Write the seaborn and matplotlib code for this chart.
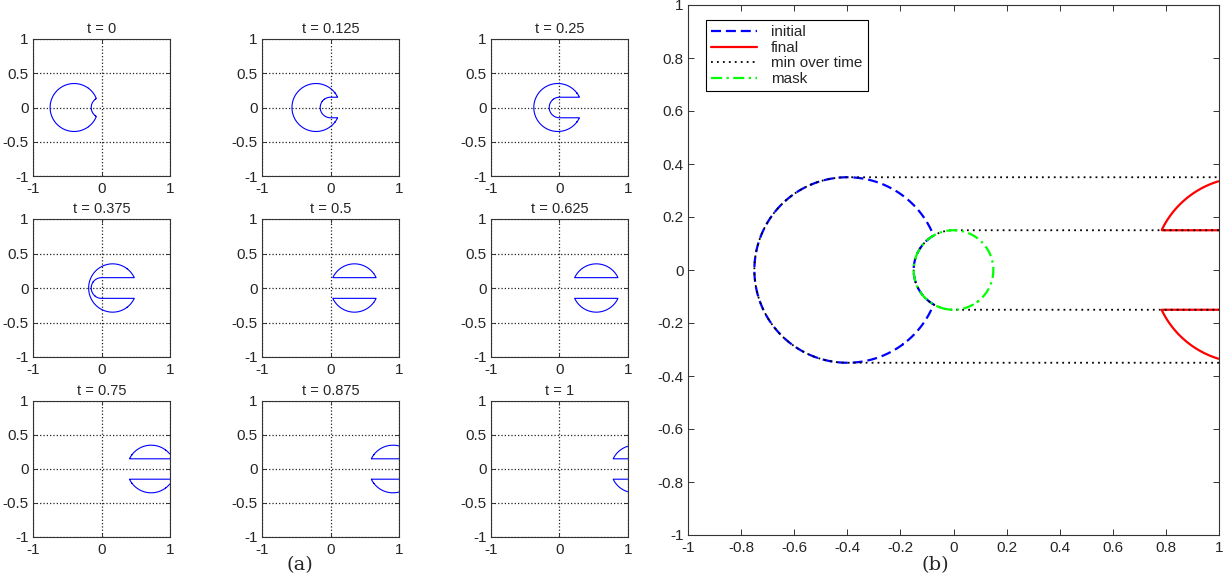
import numpy as np
import matplotlib
matplotlib.use("Agg")
import matplotlib.pyplot as plt
import seaborn as sns
from matplotlib.lines import Line2D

# Paramètres de la scène
times = [0, 0.125, 0.25, 0.375, 0.5, 0.625, 0.75, 0.875, 1]
time_labels = ["0", "0.125", "0.25", "0.375", "0.5", "0.625", "0.75", "0.875", "1"]
disk_start = (-0.4, 0.0)
disk_radius = 0.35
speed = 1.5
mask_center = (0.0, 0.0)
mask_radius = 0.15

small_xticks = [-1, 0, 1]
small_yticks = [-1, -0.5, 0, 0.5, 1]
small_xlabels = ["-1", "0", "1"]
small_ylabels = ["-1", "-0.5", "0", "0.5", "1"]
big_ticks = [-1, -0.8, -0.6, -0.4, -0.2, 0, 0.2, 0.4, 0.6, 0.8, 1]
big_labels = ["-1", "-0.8", "-0.6", "-0.4", "-0.2", "0", "0.2", "0.4", "0.6", "0.8", "1"]
legend_labels = ["initial", "final", "min over time", "mask"]

sns.set_style("ticks")
plt.rcParams["font.family"] = ["Liberation Sans", "DejaVu Sans"]
plt.rcParams["xtick.direction"] = "in"
plt.rcParams["ytick.direction"] = "in"

# Grille pour les lignes de niveau
g = np.linspace(-1, 1, 801)
X, Y = np.meshgrid(g, g)


def phi(t):
    # fonction de niveau : disque translaté privé du masque balayé
    cx = disk_start[0] + speed * t
    d_disk = np.hypot(X - cx, Y - disk_start[1]) - disk_radius
    a = mask_center[0]
    b = mask_center[0] + speed * t
    dx = X - np.clip(X, a, b)
    d_mask = np.hypot(dx, Y - mask_center[1]) - mask_radius
    return np.maximum(d_disk, -d_mask)


W, H = 1225, 581
fig = plt.figure(figsize=(W / 100, H / 100), dpi=100)


def rect(x0, y0, x1, y1):
    return [x0 / W, 1 - y1 / H, (x1 - x0) / W, (y1 - y0) / H]


def style_axes(ax, size):
    for s in ax.spines.values():
        s.set_visible(True)
        s.set_color("#333333")
        s.set_linewidth(0.8)
    ax.tick_params(top=True, right=True, length=3, width=0.7, color="#333333",
                   labelsize=size)
    ax.tick_params(axis="x", pad=4)
    ax.tick_params(axis="y", pad=3)


cols = [(33, 170), (262, 399), (491, 628)]
rows = [(39, 176), (219, 357), (401, 537)]

for i, t in enumerate(times):
    r, c = divmod(i, 3)
    ax = fig.add_axes(rect(cols[c][0], rows[r][0], cols[c][1], rows[r][1]))
    ax.contour(X, Y, phi(t), levels=[0], colors="blue", linewidths=0.8)
    ax.set_xlim(-1, 1)
    ax.set_ylim(-1, 1)
    ax.set_xticks(small_xticks)
    ax.set_xticklabels(small_xlabels)
    ax.set_yticks(small_yticks)
    ax.set_yticklabels(small_ylabels)
    ax.grid(True, linestyle=":", color="#222222", linewidth=0.9)
    ax.set_title("t = " + time_labels[i], fontsize=10.5, pad=4)
    style_axes(ax, 11)

# Panneau (b)
axb = fig.add_axes(rect(688, 5, 1219, 535))
phi_min = phi(0)
for t in np.linspace(0, 1, 121):
    phi_min = np.minimum(phi_min, phi(t))
phi_mask = np.hypot(X - mask_center[0], Y - mask_center[1]) - mask_radius

axb.contour(X, Y, phi(times[0]), levels=[0], colors="blue", linewidths=1.6,
            linestyles=[(0, (4.5, 2.2))])
axb.contour(X, Y, phi(times[-1]), levels=[0], colors="red", linewidths=1.6)
axb.contour(X, Y, phi_min, levels=[0], colors="black", linewidths=1.3,
            linestyles=[(0, (1, 2.3))])
axb.contour(X, Y, phi_mask, levels=[0], colors="#00ff00", linewidths=1.6,
            linestyles=[(0, (5, 2, 1, 2))])

axb.set_xlim(-1, 1)
axb.set_ylim(-1, 1)
axb.set_xticks(big_ticks)
axb.set_xticklabels(big_labels)
axb.set_yticks(big_ticks)
axb.set_yticklabels(big_labels)
style_axes(axb, 11)
axb.tick_params(length=4)

handles = [
    Line2D([], [], color="blue", lw=1.6, linestyle=(0, (4.5, 2.2))),
    Line2D([], [], color="red", lw=1.6),
    Line2D([], [], color="black", lw=1.3, linestyle=(0, (1, 2.3))),
    Line2D([], [], color="#00ff00", lw=1.6, linestyle=(0, (5, 2, 1, 2))),
]
leg = axb.legend(handles, legend_labels, loc="upper left",
                 bbox_to_anchor=(18 / 531, 1 - 15 / 530), fontsize=11,
                 fancybox=False, edgecolor="black", framealpha=1,
                 handlelength=3.0, labelspacing=0.1, borderpad=0.35,
                 handletextpad=0.9, borderaxespad=0)
leg.get_frame().set_linewidth(0.8)

# Étiquettes (a) et (b)
fig.text(300 / W, 1 - 565 / H, "(a)", ha="center", va="center", fontsize=14,
         family=["DejaVu Serif"])
fig.text(935 / W, 1 - 565 / H, "(b)", ha="center", va="center", fontsize=14,
         family=["DejaVu Serif"])

plt.savefig("out.png", dpi=100)
